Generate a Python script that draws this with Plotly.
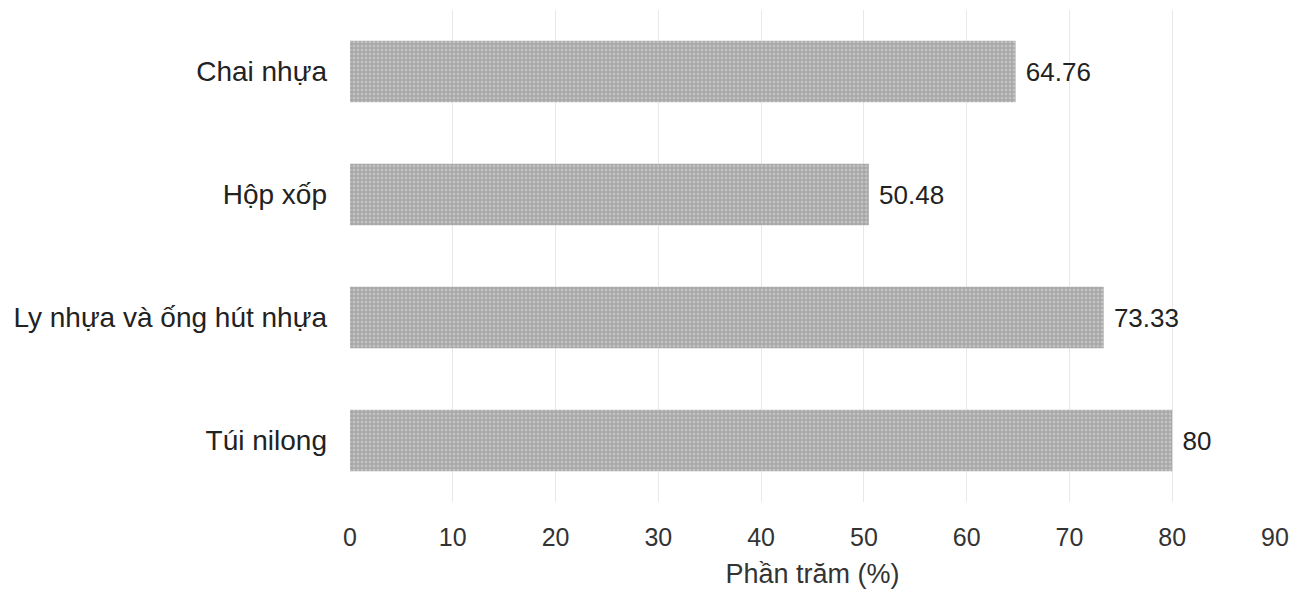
import plotly.graph_objects as go

categories = ["Túi nilong", "Ly nhựa và ống hút nhựa", "Hộp xốp", "Chai nhựa"]
values = [80, 73.33, 50.48, 64.76]
labels = ["80", "73.33", "50.48", "64.76"]
tick_vals = [0, 10, 20, 30, 40, 50, 60, 70, 80, 90]

fig = go.Figure(go.Bar(
    y=categories, x=values, orientation="h", width=0.5,
    marker=dict(color="#b4b4b4", line=dict(width=0),
                pattern=dict(shape="+", size=4, solidity=0.45,
                             fgcolor="#7a7a7a", bgcolor="#c2c2c2")),
    text=labels, texttemplate=" %{text}", textposition="outside", cliponaxis=False,
    textfont=dict(family="Liberation Sans, Arial", size=26, color="#222"),
))

fig.update_layout(
    width=1294, height=594,
    margin=dict(l=350, r=19, t=10, b=92),
    paper_bgcolor="white", plot_bgcolor="white",
    showlegend=False,
    xaxis=dict(range=[0, 90], tickvals=tick_vals, showgrid=True,
               gridcolor="#e8e8e8", gridwidth=1, zeroline=False,
               ticks="", ticklen=0, ticklabelstandoff=18, automargin=False,
               tickfont=dict(family="Liberation Sans, Arial", size=25, color="#333"),
               title=dict(text="Phần trăm (%)", standoff=14,
                          font=dict(family="Liberation Sans, Arial", size=27, color="#333"))),
    yaxis=dict(range=[-0.5, 3.5], showgrid=False, ticks="", ticklabelstandoff=22,
               automargin=False,
               tickfont=dict(family="Liberation Sans, Arial", size=28, color="#222")),
)

fig.write_html("out.html")
